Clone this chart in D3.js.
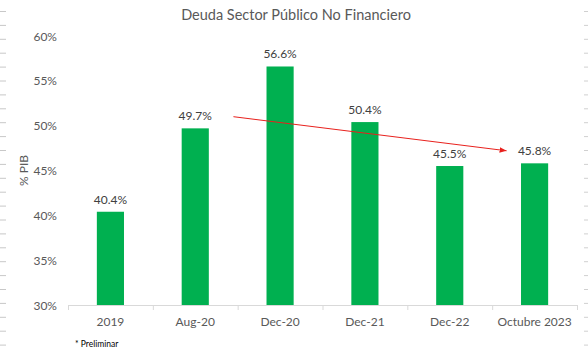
<!DOCTYPE html>
<html>
<head>
<meta charset="utf-8">
<script src="https://cdn.jsdelivr.net/npm/d3@7"></script>
<style>
  body { margin: 0; background: #fff; }
  text { font-family: Lato, "Open Sans", sans-serif; }
</style>
</head>
<body>
<div id="chart"></div>
<script>
// chart data
const categories = ["2019", "Aug-20", "Dec-20", "Dec-21", "Dec-22", "Octubre 2023"];
const values = [40.4, 49.7, 56.6, 50.4, 45.5, 45.8];
const yTicks = [30, 35, 40, 45, 50, 55, 60];
// trend arrow, in (category index, value) units
const trendStart = [1.95, 51.0];
const trendEnd = [5.17, 47.2];

let width = 588, height = 351;
let margin = {left: 68, right: 11, top: 36, bottom: 46};

let svg = d3.select("#chart").append("svg")
  .attr("width", width)
  .attr("height", height);

// faint sheet row marks along both edges
let rows = d3.range(11.5, height, 13.9);
svg.selectAll(".rowL").data(rows).enter().append("line")
  .attr("x1", 0).attr("x2", 6)
  .attr("y1", d => d).attr("y2", d => d)
  .attr("stroke", "#c8c8c8");
svg.selectAll(".rowR").data(rows).enter().append("line")
  .attr("x1", 584).attr("x2", 588)
  .attr("y1", d => d).attr("y2", d => d)
  .attr("stroke", "#d0d0d0");

let xScale = d3.scaleBand().domain(categories)
  .range([margin.left, width - margin.right])
  .paddingInner(0.68).paddingOuter(0.34);
let xIdx = d3.scaleLinear().domain([0, categories.length])
  .range([margin.left, width - margin.right]);
let yScale = d3.scaleLinear().domain([30, 60])
  .range([height - margin.bottom, margin.top]);

// title
svg.append("text")
  .attr("x", 296).attr("y", 20)
  .attr("text-anchor", "middle")
  .attr("font-size", 14.5)
  .attr("fill", "#595959")
  .text("Deuda Sector Público No Financiero");

// y axis labels
svg.selectAll(".ytick").data(yTicks).enter().append("text")
  .attr("x", 57)
  .attr("y", d => yScale(d) + 4.5)
  .attr("text-anchor", "end")
  .attr("font-size", 12)
  .attr("fill", "#595959")
  .text(d => d + "%");

svg.append("text")
  .attr("transform", "translate(28," + yScale(45) + ") rotate(-90)")
  .attr("text-anchor", "middle")
  .attr("font-size", 12)
  .attr("fill", "#595959")
  .text("% PIB");

// bars
svg.selectAll(".bar").data(values).enter().append("rect")
  .attr("x", (d, i) => xScale(categories[i]))
  .attr("width", xScale.bandwidth())
  .attr("y", d => yScale(d))
  .attr("height", d => yScale(30) - yScale(d))
  .attr("fill", "#00b050");

// data labels
svg.selectAll(".lbl").data(values).enter().append("text")
  .attr("x", (d, i) => xScale(categories[i]) + xScale.bandwidth() / 2)
  .attr("y", d => yScale(d) - 8)
  .attr("text-anchor", "middle")
  .attr("font-size", 12)
  .attr("fill", "#404040")
  .text(d => d.toFixed(1) + "%");

// x axis
let xAxis = d3.axisBottom(xIdx).tickValues(d3.range(categories.length + 1))
  .tickSize(5).tickFormat("");
let gx = svg.append("g")
  .attr("transform", "translate(0," + yScale(30) + ")")
  .call(xAxis);
gx.select(".domain").attr("stroke", "#d9d9d9");
gx.selectAll(".tick line").attr("stroke", "#d9d9d9");

svg.selectAll(".xlbl").data(categories).enter().append("text")
  .attr("x", d => xScale(d) + xScale.bandwidth() / 2)
  .attr("y", yScale(30) + 21)
  .attr("text-anchor", "middle")
  .attr("font-size", 12)
  .attr("fill", "#595959")
  .text(d => d);

// trend arrow
svg.append("defs").append("marker")
  .attr("id", "arrow")
  .attr("viewBox", "0 0 10 10")
  .attr("refX", 10).attr("refY", 5)
  .attr("markerWidth", 7).attr("markerHeight", 7)
  .attr("orient", "auto")
  .append("path")
  .attr("d", "M0,1L10,5L0,9Z")
  .attr("fill", "#e8211d");

svg.append("line")
  .attr("x1", xIdx(trendStart[0])).attr("y1", yScale(trendStart[1]))
  .attr("x2", xIdx(trendEnd[0])).attr("y2", yScale(trendEnd[1]))
  .attr("stroke", "#e8211d")
  .attr("stroke-width", 1)
  .attr("marker-end", "url(#arrow)");

// footnote
svg.append("text")
  .attr("x", 75).attr("y", 347)
  .attr("font-size", 8.5)
  .attr("fill", "#000")
  .text("* Preliminar");
</script>
</body>
</html>
